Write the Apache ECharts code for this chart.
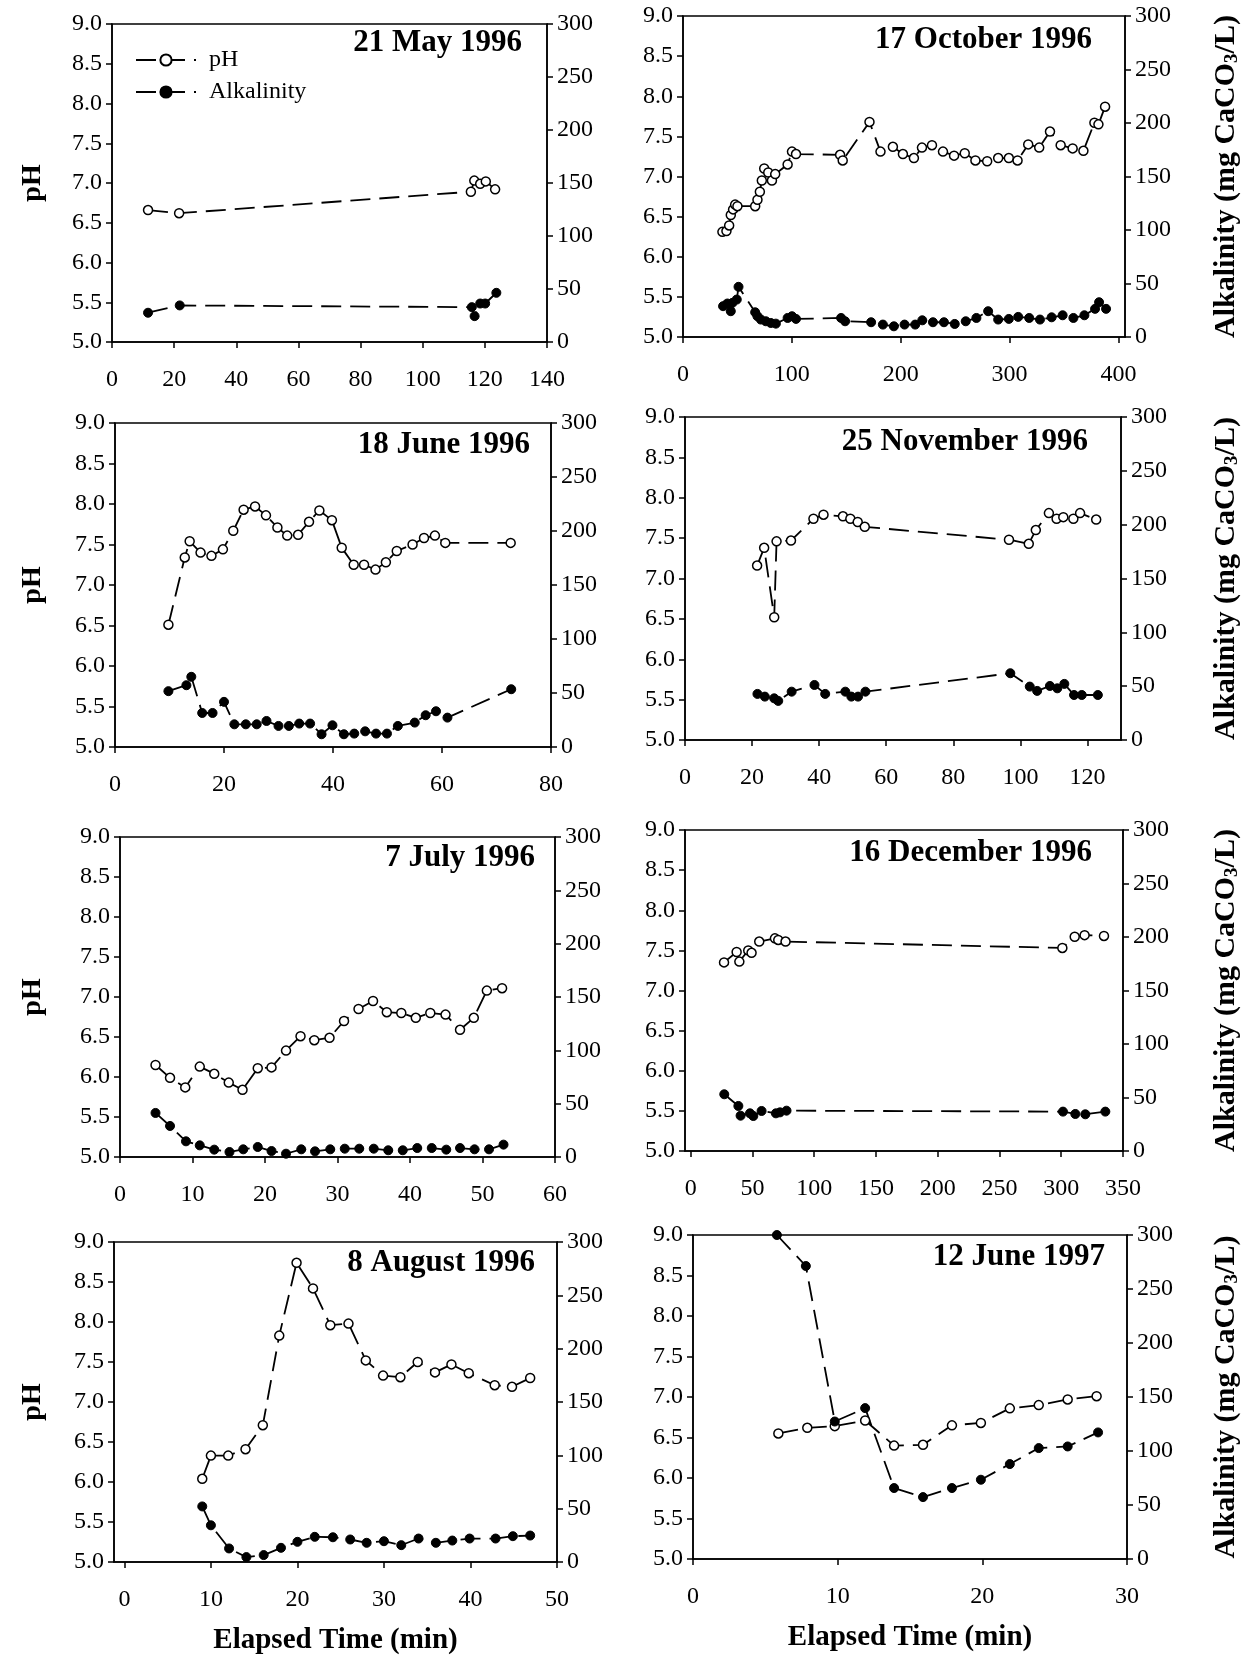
<!DOCTYPE html>
<html>
<head>
<meta charset="utf-8">
<script src="https://cdn.jsdelivr.net/npm/echarts@6/dist/echarts.min.js"></script>
<style>
html, body { margin: 0; background: #fff; }
#chart { width: 1253px; height: 1656px; }
</style>
</head>
<body>
<div id="chart"></div>
<script>
// elapsed time (min), pH and alkalinity (mg CaCO3/L) for each sampling day
var may96PhT = [11.6, 21.6, 115.5, 116.6, 118.5, 120.3, 123.3];
var may96Ph = [6.66, 6.62, 6.89, 7.03, 6.99, 7.02, 6.92];
var may96AlkT = [11.6, 21.8, 115.8, 116.7, 118.5, 120.1, 123.7];
var may96Alk = [27.6, 34.5, 32.9, 24.4, 36.3, 36.3, 46.4];

var oct96PhT = [36.2, 39.9, 42.4, 43.9, 46.0, 47.9, 50.0, 66.3, 68.4, 70.6, 72.4, 74.6, 78.3, 81.7, 84.7, 96.1, 100.1, 103.8, 144.3, 146.7, 171.3, 181.4, 192.8, 202.0, 212.1, 219.5, 228.7, 238.8, 249.0, 258.8, 268.6, 279.4, 289.5, 299.3, 307.3, 317.1, 327.2, 337.1, 346.9, 357.9, 367.8, 377.9, 381.6, 387.7];
var oct96Ph = [6.31, 6.32, 6.39, 6.52, 6.59, 6.65, 6.63, 6.63, 6.71, 6.81, 6.95, 7.10, 7.05, 6.95, 7.03, 7.15, 7.31, 7.28, 7.27, 7.20, 7.68, 7.31, 7.37, 7.28, 7.23, 7.36, 7.39, 7.31, 7.26, 7.29, 7.20, 7.19, 7.23, 7.23, 7.20, 7.40, 7.36, 7.56, 7.39, 7.35, 7.32, 7.67, 7.65, 7.87];
var oct96AlkT = [36.8, 40.8, 43.9, 45.4, 49.4, 51.0, 66.3, 68.4, 71.5, 76.1, 80.7, 85.3, 96.1, 100.1, 103.8, 145.2, 148.9, 172.8, 183.6, 193.7, 203.5, 213.3, 219.8, 229.6, 239.7, 249.6, 259.7, 269.5, 280.3, 289.5, 299.3, 307.9, 318.0, 327.9, 338.6, 348.7, 358.6, 368.7, 378.5, 382.2, 388.6];
var oct96Alk = [28.8, 31.3, 24.1, 31.9, 35.0, 46.9, 23.1, 19.4, 16.3, 14.7, 13.1, 12.5, 17.8, 19.4, 16.9, 17.8, 14.7, 13.8, 11.6, 10.0, 11.6, 11.6, 15.6, 13.8, 13.8, 12.2, 14.7, 17.8, 24.1, 16.3, 16.9, 18.8, 17.8, 16.3, 18.4, 20.3, 17.8, 20.3, 26.3, 32.5, 26.3];

var jun96PhT = [9.8, 12.8, 13.7, 15.7, 17.7, 19.8, 21.7, 23.6, 25.7, 27.7, 29.8, 31.6, 33.6, 35.6, 37.5, 39.8, 41.6, 43.8, 45.7, 47.8, 49.7, 51.7, 54.6, 56.7, 58.7, 60.6, 72.6];
var jun96Ph = [6.51, 7.34, 7.54, 7.40, 7.36, 7.44, 7.67, 7.93, 7.97, 7.86, 7.71, 7.61, 7.62, 7.78, 7.92, 7.80, 7.46, 7.25, 7.25, 7.19, 7.28, 7.42, 7.50, 7.58, 7.61, 7.52, 7.52];
var jun96AlkT = [9.8, 13.1, 14.0, 16.0, 17.9, 20.0, 21.9, 24.0, 26.0, 27.8, 30.0, 31.9, 33.8, 35.8, 37.9, 39.9, 42.0, 43.9, 45.9, 47.9, 49.9, 51.9, 55.0, 57.0, 58.9, 61.0, 72.7];
var jun96Alk = [51.7, 57.2, 65.0, 31.5, 31.5, 41.8, 21.0, 21.0, 21.0, 24.1, 19.5, 19.5, 21.7, 21.7, 11.8, 20.1, 11.8, 12.4, 14.5, 12.4, 12.4, 19.5, 22.6, 29.4, 33.1, 27.2, 53.5];

var nov96PhT = [21.5, 23.6, 26.6, 27.3, 31.6, 38.3, 41.3, 47.1, 49.3, 51.5, 53.6, 96.6, 102.5, 104.6, 108.5, 110.8, 112.8, 115.8, 117.8, 122.6];
var nov96Ph = [7.16, 7.38, 6.52, 7.46, 7.47, 7.74, 7.79, 7.77, 7.74, 7.70, 7.64, 7.48, 7.43, 7.60, 7.81, 7.74, 7.76, 7.74, 7.81, 7.73];
var nov96AlkT = [21.6, 23.8, 26.6, 27.8, 31.8, 38.6, 41.8, 47.8, 49.6, 51.6, 53.8, 97.0, 102.8, 105.0, 108.8, 111.0, 113.1, 116.0, 118.3, 123.1];
var nov96Alk = [42.8, 40.3, 38.7, 36.3, 44.9, 51.1, 42.8, 44.9, 40.3, 40.3, 44.9, 62.0, 49.6, 45.6, 50.2, 48.0, 52.1, 41.8, 41.8, 41.8];

var jul96PhT = [4.9, 6.9, 9.0, 11.0, 13.0, 15.0, 16.9, 19.0, 20.9, 22.9, 24.9, 26.8, 28.9, 30.9, 32.9, 34.9, 36.8, 38.8, 40.8, 42.8, 44.9, 46.9, 48.8, 50.6, 52.7];
var jul96Ph = [6.15, 5.99, 5.87, 6.13, 6.04, 5.93, 5.84, 6.11, 6.12, 6.33, 6.51, 6.46, 6.49, 6.70, 6.85, 6.95, 6.81, 6.80, 6.74, 6.80, 6.78, 6.59, 6.74, 7.08, 7.11];
var jul96AlkT = [4.9, 6.9, 9.1, 11.0, 13.0, 15.1, 17.0, 19.0, 20.9, 22.9, 25.0, 26.9, 29.0, 31.0, 33.0, 35.0, 37.0, 39.0, 41.0, 43.0, 45.0, 46.9, 48.9, 50.9, 52.9];
var jul96Alk = [41.3, 29.1, 14.7, 10.9, 6.9, 4.7, 7.2, 9.4, 5.6, 3.1, 7.2, 5.3, 7.2, 7.8, 7.8, 7.8, 6.3, 6.3, 8.4, 8.4, 6.9, 8.4, 7.2, 7.2, 11.6];

var dec96PhT = [27.0, 37.2, 39.4, 46.6, 49.3, 55.5, 68.2, 70.9, 76.8, 300.9, 310.9, 318.9, 334.6];
var dec96Ph = [7.35, 7.48, 7.36, 7.50, 7.47, 7.61, 7.65, 7.63, 7.61, 7.53, 7.67, 7.69, 7.68];
var dec96AlkT = [27.2, 38.6, 40.4, 48.0, 50.7, 57.4, 69.0, 72.3, 77.6, 301.4, 311.4, 319.5, 335.7];
var dec96Alk = [53.0, 42.1, 33.0, 35.2, 32.7, 37.4, 35.2, 36.1, 37.7, 36.8, 34.6, 34.3, 36.8];

var aug96PhT = [9.0, 10.0, 12.0, 14.0, 16.0, 17.9, 19.9, 21.8, 23.8, 25.9, 27.9, 29.9, 31.9, 33.9, 35.9, 37.8, 39.8, 42.8, 44.8, 46.9];
var aug96Ph = [6.04, 6.33, 6.33, 6.41, 6.71, 7.83, 8.74, 8.42, 7.96, 7.98, 7.52, 7.33, 7.31, 7.50, 7.37, 7.47, 7.36, 7.21, 7.19, 7.30];
var aug96AlkT = [9.0, 10.0, 12.1, 14.1, 16.1, 18.1, 20.0, 22.0, 24.1, 26.1, 28.0, 30.0, 32.0, 34.0, 36.0, 37.9, 39.9, 42.9, 44.9, 46.9];
var aug96Alk = [52.1, 34.4, 12.7, 4.6, 6.5, 13.3, 18.9, 23.6, 23.2, 21.1, 18.0, 19.5, 15.8, 22.0, 18.0, 20.1, 22.0, 22.0, 24.2, 24.8];

var jun97PhT = [5.9, 7.9, 9.8, 11.9, 13.9, 15.9, 17.9, 19.9, 21.9, 23.9, 25.9, 27.9];
var jun97Ph = [6.55, 6.62, 6.64, 6.71, 6.40, 6.41, 6.65, 6.68, 6.86, 6.90, 6.97, 7.01];
var jun97AlkT = [5.8, 7.8, 9.8, 11.9, 13.9, 15.9, 17.9, 19.9, 21.9, 23.9, 25.9, 28.0];
var jun97Alk = [300, 271.3, 127.3, 139.7, 65.7, 57.3, 65.7, 73.4, 87.9, 102.7, 104.2, 117.2];

// tick labels
var may96XTicks = [0, 20, 40, 60, 80, 100, 120, 140];
var oct96XTicks = [0, 100, 200, 300, 400];
var jun96XTicks = [0, 20, 40, 60, 80];
var nov96XTicks = [0, 20, 40, 60, 80, 100, 120];
var jul96XTicks = [0, 10, 20, 30, 40, 50, 60];
var dec96XTicks = [0, 50, 100, 150, 200, 250, 300, 350];
var aug96XTicks = [0, 10, 20, 30, 40, 50];
var jun97XTicks = [0, 10, 20, 30];

var titles = ['21 May 1996', '17 October 1996', '18 June 1996', '25 November 1996',
              '7 July 1996', '16 December 1996', '8 August 1996', '12 June 1997'];

var FONT = '"Liberation Serif", "Times New Roman", serif';

// panel boxes (px) and x ranges
var panels = [
    {l: 112, t: 24,   w: 435, h: 318, min: 0,    max: 140, ticks: may96XTicks, phT: may96PhT, ph: may96Ph, alkT: may96AlkT, alk: may96Alk, tr: 731, tt: 27},
    {l: 683, t: 16,   w: 442, h: 321, min: 0,    max: 406, ticks: oct96XTicks, phT: oct96PhT, ph: oct96Ph, alkT: oct96AlkT, alk: oct96Alk, tr: 161, tt: 24},
    {l: 115, t: 423,  w: 436, h: 324, min: 0,    max: 80,  ticks: jun96XTicks, phT: jun96PhT, ph: jun96Ph, alkT: jun96AlkT, alk: jun96Alk, tr: 723, tt: 429},
    {l: 685, t: 417,  w: 436, h: 323, min: 0,    max: 130, ticks: nov96XTicks, phT: nov96PhT, ph: nov96Ph, alkT: nov96AlkT, alk: nov96Alk, tr: 165, tt: 426},
    {l: 120, t: 837,  w: 435, h: 320, min: 0,    max: 60,  ticks: jul96XTicks, phT: jul96PhT, ph: jul96Ph, alkT: jul96AlkT, alk: jul96Alk, tr: 718, tt: 842},
    {l: 685, t: 830,  w: 438, h: 321, min: -4.6, max: 350, ticks: dec96XTicks, phT: dec96PhT, ph: dec96Ph, alkT: dec96AlkT, alk: dec96Alk, tr: 161, tt: 837},
    {l: 114, t: 1242, w: 443, h: 322, min: -1.2, max: 50,  ticks: aug96XTicks, phT: aug96PhT, ph: aug96Ph, alkT: aug96AlkT, alk: aug96Alk, tr: 718, tt: 1247},
    {l: 693, t: 1235, w: 434, h: 324, min: 0,    max: 30,  ticks: jun97XTicks, phT: jun97PhT, ph: jun97Ph, alkT: jun97AlkT, alk: jun97Alk, tr: 148, tt: 1241}
];

function zip(xs, ys) {
    var out = [];
    for (var i = 0; i < xs.length; i++) out.push([xs[i], ys[i]]);
    return out;
}

var axisCommon = {
    axisLine: {show: true, onZero: false, lineStyle: {color: '#000', width: 1.5}},
    axisTick: {show: true, inside: false, length: 6, lineStyle: {color: '#000', width: 1.5}},
    splitLine: {show: false}
};

var grids = [], xAxes = [], yAxes = [], series = [], titleList = [];

panels.forEach(function (p, i) {
    var isLeft = i % 2 === 0;
    var isBottom = i >= 6;
    grids.push({left: p.l, top: p.t, width: p.w, height: p.h, show: true,
                borderColor: '#000', borderWidth: 1.5, backgroundColor: 'transparent'});
    xAxes.push(Object.assign({}, axisCommon, {
        type: 'value', gridIndex: i, min: p.min, max: p.max,
        axisTick: Object.assign({}, axisCommon.axisTick, {customValues: p.ticks}),
        axisLabel: {customValues: p.ticks, margin: 26, color: '#000', fontSize: 24, fontFamily: FONT},
        name: isBottom ? 'Elapsed Time (min)' : '',
        nameLocation: 'middle', nameGap: 64,
        nameTextStyle: {fontSize: 29, fontWeight: 'bold', fontFamily: FONT, color: '#000'}
    }));
    yAxes.push(Object.assign({}, axisCommon, {
        type: 'value', gridIndex: i, position: 'left', min: 5, max: 9, interval: 0.5,
        axisLabel: {margin: 10, color: '#000', fontSize: 24, fontFamily: FONT,
                    formatter: function (v) { return v.toFixed(1); }},
        name: isLeft ? 'pH' : '', nameLocation: 'middle', nameRotate: 90, nameGap: p.l - 47,
        nameTextStyle: {fontSize: 28, fontWeight: 'bold', fontFamily: FONT, color: '#000'}
    }));
    yAxes.push(Object.assign({}, axisCommon, {
        type: 'value', gridIndex: i, position: 'right', min: 0, max: 300, interval: 50,
        axisLabel: {margin: 10, color: '#000', fontSize: 24, fontFamily: FONT},
        name: isLeft ? '' : 'Alkalinity (mg CaCO{sub|3}/L)', nameLocation: 'middle', nameRotate: 90,
        nameGap: 1210 - (p.l + p.w),
        nameTextStyle: {fontSize: 30, fontWeight: 'bold', fontFamily: FONT, color: '#000',
                        rich: {sub: {fontSize: 19, fontWeight: 'bold', fontFamily: FONT, padding: [13, 0, 0, 0]}}}
    }));
    titleList.push({text: titles[i], right: p.tr, top: p.tt, padding: 0,
                    textStyle: {fontSize: 31, fontWeight: 'bold', fontFamily: FONT, color: '#000', lineHeight: 32}});
    series.push({
        name: 'pH', type: 'line', xAxisIndex: i, yAxisIndex: 2 * i,
        data: zip(p.phT, p.ph), symbol: 'circle', symbolSize: 9, clip: false,
        itemStyle: {color: '#fff', borderColor: '#000', borderWidth: 1.5},
        lineStyle: {color: '#000', width: 1.8, type: [20, 9]}
    });
    series.push({
        name: 'Alkalinity', type: 'line', xAxisIndex: i, yAxisIndex: 2 * i + 1,
        data: zip(p.alkT, p.alk), symbol: 'circle', symbolSize: 9, clip: false,
        itemStyle: {color: '#000', borderColor: '#000', borderWidth: 1},
        lineStyle: {color: '#000', width: 1.8, type: [20, 9]}
    });
});

var chart = echarts.init(document.getElementById('chart'));
chart.setOption({
    animation: false,
    backgroundColor: '#fff',
    title: titleList,
    legend: {
        data: ['pH', 'Alkalinity'], orient: 'vertical', left: 130, top: 43,
        itemWidth: 60, itemHeight: 14, itemGap: 8, selectedMode: false,
        textStyle: {fontSize: 24, fontFamily: FONT, color: '#000', padding: [0, 0, 0, 8]}
    },
    grid: grids,
    xAxis: xAxes,
    yAxis: yAxes,
    series: series
});
</script>
</body>
</html>
